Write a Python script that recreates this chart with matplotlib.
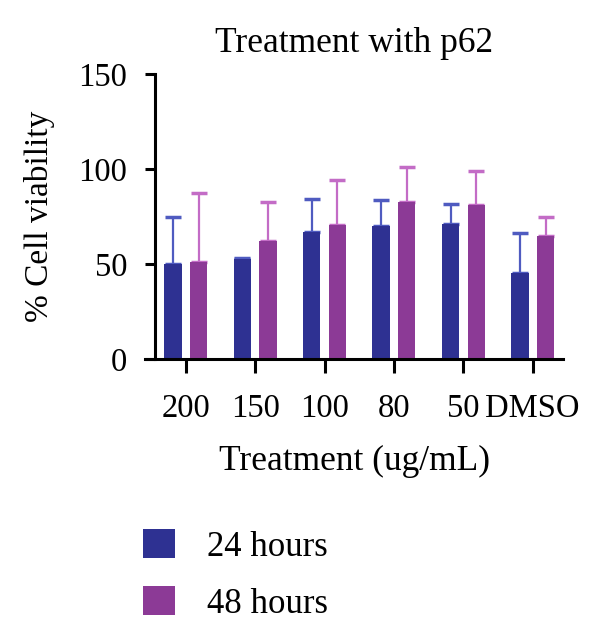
import matplotlib
matplotlib.use('Agg')
from matplotlib import pyplot as plt
import numpy as np

categories = ['200', '150', '100', '80', '50', 'DMSO']
h24 = [50.2, 52.5, 66.8, 69.8, 71.0, 45.1]
h24_err = [24.7, 0.6, 17.2, 13.7, 10.6, 21.2]
h48 = [50.9, 62.1, 70.7, 82.6, 80.9, 64.7]
h48_err = [36.3, 20.5, 23.7, 18.3, 18.0, 10.2]

blue = '#2E3192'
purple = '#8C3A96'
blue_err = '#4F5BC0'
purple_err = '#C36CC6'

plt.rcParams['font.family'] = ['Liberation Serif', 'DejaVu Serif']

fig = plt.figure(figsize=(6, 6.4), dpi=100)
ax = fig.add_axes([0.2417, 0.4391, 0.697, 0.4453])

x = np.arange(len(categories))
w = 0.25
off = 0.185

b1 = ax.bar(x - off, h24, w, color=blue, label='24 hours', zorder=2)
b2 = ax.bar(x + off, h48, w, color=purple, label='48 hours', zorder=2)
ax.errorbar(x - off, h24, yerr=[np.zeros(6), h24_err], fmt='none',
            ecolor=blue_err, elinewidth=1.6, capsize=6, capthick=2.5, zorder=1)
ax.errorbar(x + off, h48, yerr=[np.zeros(6), h48_err], fmt='none',
            ecolor=purple_err, elinewidth=1.6, capsize=6, capthick=2.5, zorder=1)

ax.set_xlim(-0.59, 5.44)
ax.set_ylim(0, 150)
ax.set_yticks([0, 50, 100, 150])
ax.set_xticks(x)
ax.set_xticklabels(categories)

for s in ['top', 'right']:
    ax.spines[s].set_visible(False)
ax.spines['left'].set_position(('data', -0.447))
ax.spines['left'].set_linewidth(2.2)
ax.spines['bottom'].set_linewidth(2.2)
ax.tick_params(axis='y', length=7, width=2.2, pad=13, labelsize=23.5)
ax.tick_params(axis='x', length=10, width=2.2, pad=15, labelsize=23.5)

ax.set_title('Treatment with p62', fontsize=25.5, pad=16)
ax.set_xlabel('Treatment (ug/mL)', fontsize=25.5, labelpad=15)
ax.set_ylabel('% Cell viability', fontsize=24, labelpad=17)

ax.legend(handles=[b1, b2], loc='upper left', bbox_to_anchor=(0.238, 0.173),
          bbox_transform=fig.transFigure, frameon=False, fontsize=25,
          borderpad=0, borderaxespad=0, handlelength=0.92, handleheight=0.89,
          handletextpad=0.92, labelspacing=0.66)

fig.savefig('out.png', dpi=100)
